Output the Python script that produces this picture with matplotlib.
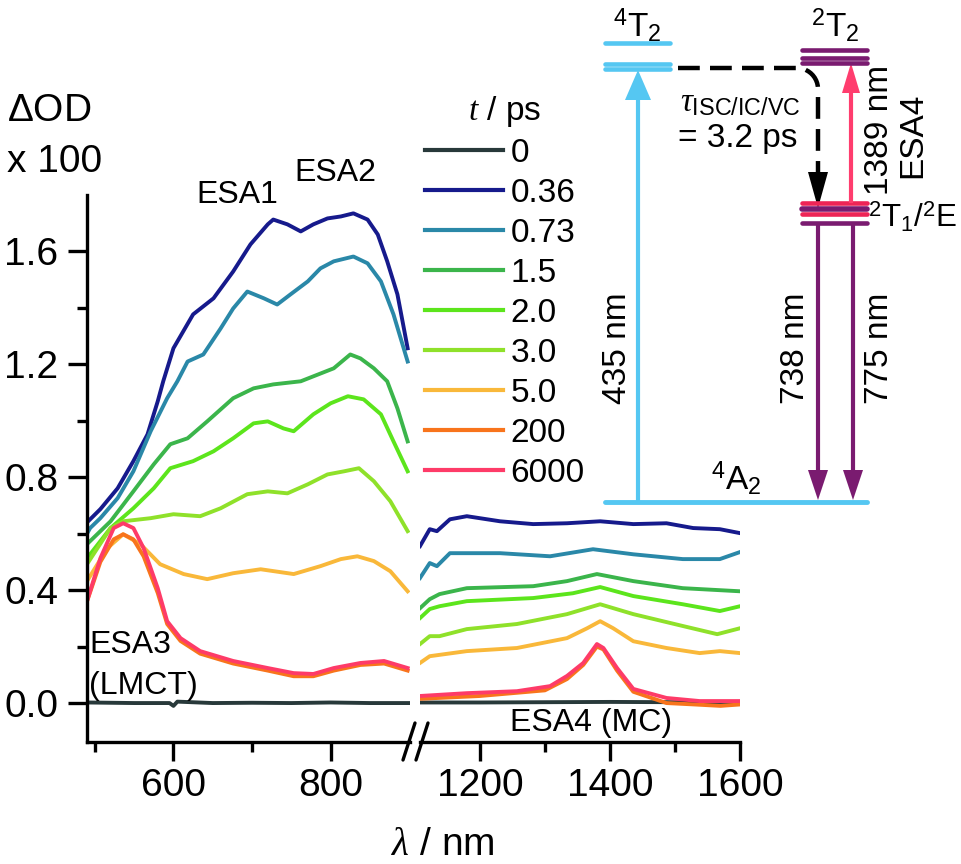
import numpy as np
import matplotlib
matplotlib.use('Agg')
import matplotlib.pyplot as plt

plt.rcParams['font.family'] = ['Liberation Sans', 'DejaVu Sans']
plt.rcParams['mathtext.fontset'] = 'custom'
plt.rcParams['mathtext.rm'] = 'Liberation Sans'
plt.rcParams['mathtext.it'] = 'Liberation Serif:italic'
plt.rcParams['mathtext.sf'] = 'Liberation Sans'
plt.rcParams['mathtext.bf'] = 'Liberation Sans:bold'

# delay times (legend) and colours
delays = ['0', '0.36', '0.73', '1.5', '2.0', '3.0', '5.0', '200', '6000']
colors = ['#28393a', '#161a8c', '#2a88a8', '#3bb54b', '#5ce51c', '#8fe12a',
          '#f9b83a', '#f8741c', '#fe3b68']

# spectra: wavelength (nm) and dOD x 100
wl_0 = [490, 550, 595, 600, 605, 650, 700, 750, 800, 850, 900,
        1108, 1200, 1300, 1400, 1500, 1600]
od_0 = [0.002, 0.0, 0.0, -0.01, 0.005, 0.0, 0.001, 0.0, 0.002, 0.0, 0.0,
        0.002, 0.002, 0.003, 0.004, 0.003, 0.004]

wl_036 = [490, 494, 507, 529, 549, 567, 580, 587, 600, 625, 651, 676, 698, 720, 727,
          745, 762, 778, 796, 813, 829, 847, 860, 872, 885, 898,
          1108, 1123, 1134, 1154, 1180, 1231, 1282, 1334, 1385, 1436, 1487, 1528, 1569, 1600]
od_036 = [0.64, 0.651, 0.687, 0.761, 0.857, 0.952, 1.069, 1.14, 1.257, 1.377, 1.434, 1.529,
          1.625, 1.696, 1.713, 1.696, 1.671, 1.696, 1.717, 1.724, 1.735, 1.713, 1.66, 1.565,
          1.448, 1.257,
          0.556, 0.616, 0.609, 0.651, 0.662, 0.644, 0.634, 0.637, 0.644, 0.634, 0.637, 0.62,
          0.616, 0.602]

wl_073 = [490, 494, 507, 529, 549, 571, 592, 605, 618, 638, 660, 676, 694, 715, 732,
          749, 771, 787, 804, 829, 847, 864, 880, 898,
          1108, 1123, 1134, 1154, 1231, 1308, 1374, 1436, 1512, 1569, 1600]
od_073 = [0.60, 0.62, 0.655, 0.726, 0.821, 0.963, 1.08, 1.14, 1.21, 1.235, 1.327, 1.398,
          1.458, 1.434, 1.412, 1.448, 1.494, 1.54, 1.565, 1.582, 1.558, 1.494, 1.377, 1.21,
          0.443, 0.496, 0.485, 0.531, 0.531, 0.52, 0.545, 0.527, 0.51, 0.51, 0.535]

wl_15 = [490, 520, 549, 575, 596, 618, 643, 676, 702, 727, 762, 804, 825, 838, 855,
         872, 885, 898,
         1108, 1123, 1138, 1180, 1282, 1334, 1380, 1436, 1512, 1600]
od_15 = [0.563, 0.644, 0.75, 0.846, 0.917, 0.938, 0.998, 1.08, 1.115, 1.129, 1.14, 1.186,
         1.235, 1.221, 1.186, 1.14, 1.044, 0.927,
         0.336, 0.368, 0.386, 0.407, 0.414, 0.432, 0.457, 0.432, 0.407, 0.396]

wl_20 = [490, 520, 549, 575, 596, 625, 651, 676, 702, 720, 740, 753, 778, 800, 822,
         842, 864, 880, 898,
         1108, 1123, 1138, 1180, 1282, 1343, 1385, 1436, 1512, 1569, 1600]
od_20 = [0.513, 0.62, 0.69, 0.761, 0.832, 0.857, 0.892, 0.938, 0.991, 0.998, 0.973, 0.963,
         1.023, 1.062, 1.087, 1.076, 1.023, 0.927, 0.821,
         0.301, 0.333, 0.343, 0.361, 0.372, 0.389, 0.411, 0.379, 0.35, 0.326, 0.343]

wl_30 = [490, 520, 536, 571, 600, 634, 660, 694, 720, 745, 771, 796, 817, 836, 855,
         876, 898,
         1108, 1123, 1138, 1180, 1257, 1334, 1385, 1436, 1512, 1565, 1600]
od_30 = [0.492, 0.62, 0.644, 0.655, 0.669, 0.662, 0.69, 0.74, 0.75, 0.743, 0.775, 0.81,
         0.821, 0.832, 0.786, 0.715, 0.609,
         0.209, 0.237, 0.237, 0.262, 0.28, 0.315, 0.35, 0.315, 0.273, 0.244, 0.265]

wl_50 = [490, 516, 536, 558, 583, 613, 643, 676, 711, 753, 787, 813, 834, 855, 876, 898,
         1108, 1123, 1180, 1257, 1334, 1365, 1385, 1405, 1436, 1487, 1538, 1569, 1600]
od_50 = [0.432, 0.549, 0.598, 0.563, 0.492, 0.457, 0.439, 0.46, 0.474, 0.457, 0.485, 0.51,
         0.52, 0.503, 0.467, 0.396,
         0.142, 0.166, 0.184, 0.195, 0.23, 0.265, 0.29, 0.265, 0.219, 0.195, 0.177, 0.184,
         0.177]

wl_200 = [490, 507, 524, 536, 549, 562, 580, 592, 609, 634, 676, 720, 753, 778, 804, 838,
          868, 898,
          1108, 1200, 1300, 1334, 1359, 1380, 1390, 1411, 1436, 1487, 1530, 1570, 1600]
od_200 = [0.36, 0.50, 0.58, 0.598, 0.58, 0.52, 0.39, 0.28, 0.22, 0.175, 0.14, 0.115, 0.095,
          0.095, 0.115, 0.135, 0.14, 0.115,
          0.015, 0.025, 0.045, 0.085, 0.135, 0.2, 0.19, 0.115, 0.04, 0.0, -0.005, -0.01,
          -0.005]

wl_6000 = [490, 507, 524, 536, 549, 562, 580, 592, 609, 634, 676, 720, 753, 778, 804, 838,
           868, 898,
           1108, 1180, 1257, 1308, 1334, 1359, 1380, 1390, 1411, 1436, 1487, 1538, 1600]
od_6000 = [0.361, 0.513, 0.62, 0.637, 0.62, 0.549, 0.407, 0.29, 0.23, 0.184, 0.149, 0.124,
           0.106, 0.103, 0.124, 0.142, 0.149, 0.124,
           0.025, 0.035, 0.042, 0.06, 0.096, 0.142, 0.209, 0.195, 0.124, 0.05, 0.018, 0.007,
           0.007]

wls = [wl_0, wl_036, wl_073, wl_15, wl_20, wl_30, wl_50, wl_200, wl_6000]
ods = [od_0, od_036, od_073, od_15, od_20, od_30, od_50, od_200, od_6000]

W, H = 961, 864
fig = plt.figure(figsize=(W / 100, H / 100), dpi=100)

def px_box(x0, y0, x1, y1):
    # pixel box (top-left origin) -> figure fraction rect
    return [x0 / W, 1 - y1 / H, (x1 - x0) / W, (y1 - y0) / H]

ax1 = fig.add_axes(px_box(87, 195, 410, 742))
ax2 = fig.add_axes(px_box(420, 195, 740, 742))
ax1.patch.set_alpha(0)
ax2.patch.set_alpha(0)

ylo, yhi = -0.138, 1.8
lines = []
for wl, od, c, lab in zip(wls, ods, colors, delays):
    wl = np.array(wl)
    od = np.array(od)
    vis = wl < 1000
    l, = ax1.plot(wl[vis], od[vis], color=c, lw=2.8, label=lab, solid_joinstyle='round')
    ax2.plot(wl[~vis], od[~vis], color=c, lw=2.8, solid_joinstyle='round')
    lines.append(l)

ax1.set_xlim(490, 901)
ax2.set_xlim(1108, 1600)
for ax in (ax1, ax2):
    ax.set_ylim(ylo, yhi)
    for s in ['top', 'right']:
        ax.spines[s].set_visible(False)
    for s in ['left', 'bottom']:
        ax.spines[s].set_linewidth(2.4)
    ax.tick_params(which='major', length=13.5, width=2.4, labelsize=28, direction='out')
    ax.tick_params(which='minor', length=7, width=2.4, direction='out')
    ax.tick_params(axis='x', pad=5)
    ax.tick_params(axis='y', pad=7)

ax1.set_xticks([600, 800])
ax1.set_xticks([500, 700], minor=True)
ax1.set_yticks([0.0, 0.4, 0.8, 1.2, 1.6])
ax1.set_yticklabels(['0.0', '0.4', '0.8', '1.2', '1.6'])
ax1.set_yticks([0.2, 0.6, 1.0, 1.4], minor=True)

ax2.spines['left'].set_visible(False)
ax2.set_xticks([1200, 1400, 1600])
ax2.set_xticks([1300, 1500], minor=True)
ax2.set_yticks([])
ax2.tick_params(axis='y', which='both', left=False, labelleft=False)

leg = ax1.legend(lines, delays, title=r'$t$ / ps', loc='upper left',
                 bbox_to_anchor=(425 / W, 1 - 94 / H), bbox_transform=fig.transFigure,
                 frameon=False, fontsize=24, title_fontsize=24, handlelength=2.35,
                 handletextpad=0.22, labelspacing=0.27, borderpad=0, borderaxespad=0)
for h in leg.get_lines():
    h.set_linewidth(3)

# overlay in pixel coordinates for labels, axis break and level scheme
ov = fig.add_axes([0, 0, 1, 1], zorder=5)
ov.set_xlim(0, W)
ov.set_ylim(H, 0)
ov.axis('off')

ov.text(7, 111, r'$\Delta$OD', fontsize=28, va='center', ha='left')
ov.text(7, 162, 'x 100', fontsize=28, va='center', ha='left')
ov.text(443, 845, r'$\lambda$ / nm', fontsize=28, va='center', ha='center')
ov.text(237, 195, 'ESA1', fontsize=23, va='center', ha='center')
ov.text(335, 173, 'ESA2', fontsize=23, va='center', ha='center')
ov.text(89, 645, 'ESA3', fontsize=23, va='center', ha='left')
ov.text(89, 686, '(LMCT)', fontsize=23, va='center', ha='left')
ov.text(591, 723, 'ESA4 (MC)', fontsize=23, va='center', ha='center')

# axis break marks
ov.plot([403, 415], [760, 723], color='black', lw=2.4, solid_capstyle='round')
ov.plot([416, 428], [760, 723], color='black', lw=2.4, solid_capstyle='round')

cyan = '#55c7f2'
purple = '#7a1b70'
red = '#ee2456'
pink = '#ff3d6e'

def arrow(x, y0, y1, color, hw, hl, lw=3.0):
    d = 1 if y1 > y0 else -1
    ov.plot([x, x], [y0, y1 - d * hl], color=color, lw=lw, solid_capstyle='butt')
    ov.fill([x - hw, x + hw, x], [y1 - d * hl, y1 - d * hl, y1], color=color, lw=0)

# levels
ov.plot([605, 670], [43, 43], color=cyan, lw=3.3, solid_capstyle='round')
ov.plot([605, 670], [63.5, 63.5], color=cyan, lw=3.3, solid_capstyle='round')
ov.plot([605, 670], [68.5, 68.5], color=cyan, lw=3.3, solid_capstyle='round')
ov.plot([605, 867], [502, 502], color=cyan, lw=3.5, solid_capstyle='round')
for yy in (50, 57.5, 63):
    ov.plot([802, 867], [yy, yy], color=purple, lw=3.3, solid_capstyle='round')
ov.plot([802, 867], [203, 203], color=red, lw=3.3, solid_capstyle='round')
ov.plot([802, 867], [208.5, 208.5], color=purple, lw=4.0, solid_capstyle='round')
ov.plot([802, 867], [214, 214], color=red, lw=3.3, solid_capstyle='round')
ov.plot([802, 867], [223, 223], color=purple, lw=3.3, solid_capstyle='round')

# transitions
arrow(638, 502, 70, cyan, 13, 30)
arrow(851, 203, 63, pink, 9, 30)
arrow(818, 223, 500, purple, 10, 30)
arrow(853, 223, 500, purple, 10, 30)

# dashed ISC path
r = 21
th = np.linspace(np.pi / 2, 0, 12)
px = np.concatenate([[678], 797 + r * np.cos(th), [818]])
py = np.concatenate([[68], 89 - r * np.sin(th), [172]])
ov.plot(px, py, color='black', lw=3.2, dashes=(4.9, 2.3), dash_capstyle='butt')
ov.fill([808, 828, 818], [172, 172, 208], color='black', lw=0)

ov.text(637, 25, r'$^{4}$T$_{2}$', fontsize=24, ha='center', va='center')
ov.text(835, 25, r'$^{2}$T$_{2}$', fontsize=24, ha='center', va='center')
ov.text(736, 478, r'$^{4}$A$_{2}$', fontsize=24, ha='center', va='center')
ov.text(868, 217, r'$^{2}$T$_{1}$/$^{2}$E', fontsize=22.5, ha='left', va='center')
ov.text(617, 348, '435 nm', fontsize=24, rotation=90, ha='center', va='center')
ov.text(795, 348, '738 nm', fontsize=24, rotation=90, ha='center', va='center')
ov.text(879, 348, '775 nm', fontsize=24, rotation=90, ha='center', va='center')
ov.text(880, 130, '1389 nm', fontsize=24, rotation=90, ha='center', va='center')
ov.text(913, 135, 'ESA4', fontsize=24, rotation=90, ha='center', va='center')
ov.text(680, 103, r'$\tau_{\mathrm{ISC/IC/VC}}$', fontsize=24, ha='left', va='center')
ov.text(678, 138, '= 3.2 ps', fontsize=24, ha='left', va='center')

fig.savefig('out.png', dpi=100)
